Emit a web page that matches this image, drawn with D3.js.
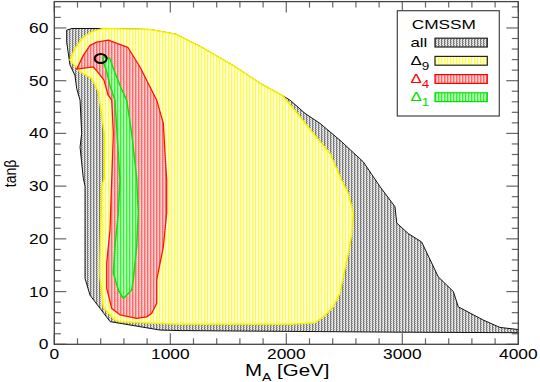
<!DOCTYPE html>
<html>
<head>
<meta charset="utf-8">
<script src="https://cdn.jsdelivr.net/npm/d3@7"></script>
<style>
  body { margin: 0; background: #fff; }
  svg text { font-family: "Liberation Sans", Arial, Helvetica, sans-serif; }
</style>
</head>
<body>
<svg id="chart" width="540" height="382"></svg>
<script>
(function() {
    // region outlines, as [M_A (GeV), tan beta]
    var regionAll = [[107,59.6],[153,59.9],[455,59.9],[825,59.7],[1049,58.8],[1256,56.5],[1541,52.9],
        [1774,49.5],[1972,47.1],[2033,46.3],[2161,43.8],[2290,41.9],[2463,38.7],[2664,34.6],[2750,31.8],
        [2808,29.9],[2937,26.1],[2952,23.0],[3052,21.0],[3167,19.4],[3310,12.8],[3440,10.0],[3483,7.1],
        [3698,4.6],[3842,3.2],[4000,2.8],[4000,2.2],[2980,2.3],[1084,2.6],[912,2.7],[481,4.3],[395,6.8],
        [308,9.3],[265,12.5],[265,30.0],[250,31.5],[222,37.4],[236,40.0],[222,46.3],[193,48.5],[178,51.0],
        [135,53.0],[107,57.3]];

    var regionD9 = [[135,53.9],[178,56.1],[250,58.3],[336,59.4],[422,59.9],[825,59.7],[1049,58.8],
        [1256,56.5],[1541,52.9],[1774,49.5],[1972,47.1],[2090,43.9],[2233,40.0],[2377,36.2],[2478,31.1],
        [2535,28.6],[2578,24.8],[2564,21.0],[2535,17.2],[2491,12.8],[2463,9.7],[2405,7.1],[2319,5.2],
        [2247,4.1],[2032,3.8],[1084,3.8],[567,4.3],[523,4.6],[466,5.9],[422,7.1],[394,12.8],[394,15.7],
        [409,30.0],[431,31.5],[431,40.0],[379,47.9],[322,50.4],[222,51.7]];

    var regionD4 = [[193,52.2],[250,54.8],[308,56.7],[366,57.3],[466,57.7],[552,57.0],[635,56.3],
        [739,52.6],[883,46.3],[940,41.9],[954,36.3],[969,31.1],[969,24.9],[940,18.5],[883,12.2],
        [883,7.8],[840,5.9],[797,5.2],[710,4.9],[566,5.6],[495,6.8],[452,10.6],[452,15.4],[480,21.7],
        [495,31.1],[509,40.0],[495,46.3],[463,47.3],[428,50.1],[368,51.8],[336,52.6]];

    var regionD1 = [[422,54.5],[480,54.2],[509,52.3],[575,48.6],[624,46.3],[667,40.0],[710,31.5],
        [724,24.9],[710,18.5],[681,12.2],[667,10.3],[595,8.7],[552,10.3],[509,13.5],[523,18.5],
        [552,24.9],[566,31.1],[523,46.3],[480,49.1],[452,51.7],[422,53.6]];

    var bestFit = [400, 54.2]; // the small black ring

    var xMajor = [0, 1000, 2000, 3000, 4000];
    var yMajor = [0, 10, 20, 30, 40, 50, 60];
    var legendNames = ["all", "9", "4", "1"];
    var legendColors = ["#000", "#000", "#ff0000", "#00e000"];

    var svg = d3.select("#chart");

    var x = d3.scaleLinear().domain([0, 4000]).range([54.3, 518.3]);
    var y = d3.scaleLinear().domain([0, 65]).range([344.3, 1.6]);

    // hatch-like fills, one per region
    var defs = svg.append("defs");
    function hatch(id, cols) {
        var p = defs.append("pattern").attr("id", id)
            .attr("patternUnits", "userSpaceOnUse")
            .attr("width", cols.length).attr("height", 2);
        cols.forEach(function(c, i) {
            p.append("rect").attr("x", i).attr("y", 0).attr("width", 1).attr("height", 1).attr("fill", c[0]);
            p.append("rect").attr("x", i).attr("y", 1).attr("width", 1).attr("height", 1).attr("fill", c[1]);
        });
    }
    hatch("hAll", [["#6e6e6e", "#8a8a8a"], ["#e4e4e4", "#9a9a9a"], ["#d8d8d8", "#f0f0f0"]]);
    hatch("hD9", [["#ffff30", "#ffff50"], ["#ffffc0", "#ffffa0"], ["#ffffff", "#ffffe0"]]);
    hatch("hD4", [["#ff6464", "#ff7070"], ["#ffb0b0", "#ffa0a0"], ["#ffd4d4", "#ffc8c8"]]);
    hatch("hD1", [["#30f030", "#40f040"], ["#90ff90", "#80ff80"], ["#c8ffc8", "#b8ffb8"]]);

    var line = d3.line()
        .x(function(d) { return x(d[0]); })
        .y(function(d) { return y(d[1]); });

    var plot = svg.append("g");
    plot.append("clipPath").attr("id", "clip").append("rect")
        .attr("x", x(0)).attr("y", y(65)).attr("width", x(4000) - x(0)).attr("height", y(0) - y(65));
    var regions = plot.append("g").attr("clip-path", "url(#clip)");

    var layers = [
        { pts: regionAll, fill: "url(#hAll)", stroke: "#111", w: 1 },
        { pts: regionD9, fill: "url(#hD9)", stroke: "#f5f000", w: 1.5 },
        { pts: regionD4, fill: "url(#hD4)", stroke: "#ff1010", w: 1.3 },
        { pts: regionD1, fill: "url(#hD1)", stroke: "#10e010", w: 1.5 }
    ];
    regions.selectAll("path.region")
        .data(layers)
        .join("path")
            .attr("class", "region")
            .attr("d", function(d) { return line(d.pts) + "Z"; })
            .attr("fill", function(d) { return d.fill; })
            .attr("stroke", function(d) { return d.stroke; })
            .attr("stroke-width", function(d) { return d.w; })
            .attr("stroke-linejoin", "round");

    regions.append("ellipse")
        .attr("cx", x(bestFit[0])).attr("cy", y(bestFit[1]))
        .attr("rx", 6).attr("ry", 4.5)
        .attr("fill", "none").attr("stroke", "#000").attr("stroke-width", 2);

    // ticks on all four sides, pointing inwards
    var tickColor = "#666";
    var xMinor = d3.range(0, 4001, 200);
    var yMinor = d3.range(0, 65, 2);
    var axes = svg.append("g").attr("stroke", tickColor).attr("stroke-width", 1.2);
    xMinor.forEach(function(v) {
        var len = (v % 1000 === 0) ? 11 : 6;
        axes.append("line").attr("x1", x(v)).attr("x2", x(v)).attr("y1", y(0)).attr("y2", y(0) - len);
        axes.append("line").attr("x1", x(v)).attr("x2", x(v)).attr("y1", y(65)).attr("y2", y(65) + len);
    });
    yMinor.forEach(function(v) {
        var len = (v % 10 === 0) ? 12 : 6.5;
        axes.append("line").attr("y1", y(v)).attr("y2", y(v)).attr("x1", x(0)).attr("x2", x(0) + len);
        axes.append("line").attr("y1", y(v)).attr("y2", y(v)).attr("x1", x(4000)).attr("x2", x(4000) - len);
    });

    svg.append("rect")
        .attr("x", x(0)).attr("y", y(65)).attr("width", x(4000) - x(0)).attr("height", y(0) - y(65))
        .attr("fill", "none").attr("stroke", "#444").attr("stroke-width", 1.3);

    // tick labels (the original lettering is wide, so stretch it sideways)
    svg.append("g").selectAll("text")
        .data(xMajor)
        .join("text")
            .attr("transform", function(d) { return "translate(" + x(d) + ",358.5) scale(1.24,1)"; })
            .attr("text-anchor", "middle")
            .attr("font-size", 14)
            .text(function(d) { return d; });
    svg.append("g").selectAll("text")
        .data(yMajor)
        .join("text")
            .attr("transform", function(d) { return "translate(48.3," + (y(d) + 5) + ") scale(1.24,1)"; })
            .attr("text-anchor", "end")
            .attr("font-size", 14)
            .text(function(d) { return d; });

    // axis titles
    var xt = svg.append("text")
        .attr("transform", "translate(245,375.5) scale(1.28,1)")
        .attr("font-size", 16);
    xt.append("tspan").text("M");
    xt.append("tspan").attr("dy", 5).attr("font-size", 11).text("A");
    xt.append("tspan").attr("dy", -5).text(" [GeV]");

    svg.append("text")
        .attr("transform", "translate(15.5,173.5) rotate(-90) scale(1,1.12)")
        .attr("text-anchor", "middle")
        .attr("font-size", 14)
        .text("tanβ");

    // legend
    var lg = svg.append("g");
    lg.append("rect").attr("x", 397.3).attr("y", 10.7).attr("width", 102).attr("height", 105.3)
        .attr("fill", "#fff").attr("stroke", "#444").attr("stroke-width", 1.2);
    lg.append("text").attr("transform", "translate(411.7,28.8) scale(1.38,1)")
        .attr("font-size", 12.5).text("CMSSM");
    var fills = ["url(#hAll)", "url(#hD9)", "url(#hD4)", "url(#hD1)"];
    legendNames.forEach(function(name, i) {
        var row = 46.7 + i * 18.2;
        var t = lg.append("text")
            .attr("transform", "translate(410.5," + row + ") scale(1.35,1)")
            .attr("font-size", 12.5)
            .attr("fill", legendColors[i]);
        if (i === 0) {
            t.text(name);
        } else {
            t.append("tspan").text("Δ");
            t.append("tspan").attr("dy", 5).attr("font-size", 10).text(name);
        }
        lg.append("rect").attr("x", 435).attr("y", row - 8.5).attr("width", 52.3).attr("height", 8.8)
            .attr("fill", fills[i])
            .attr("stroke", i === 0 || i === 1 ? "#222" : legendColors[i])
            .attr("stroke-width", 1.2);
    });
})();
</script>
</body>
</html>
